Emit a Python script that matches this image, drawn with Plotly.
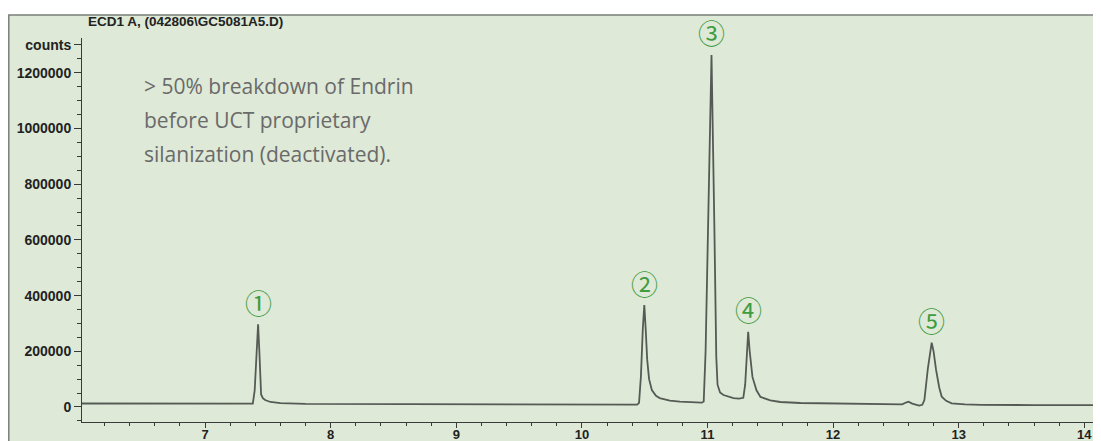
import plotly.graph_objects as go

# ---- data ----
time_min = [6.02, 6.50, 7.00, 7.36, 7.38, 7.395, 7.41, 7.422, 7.432, 7.44, 7.446, 7.46,
            7.478, 7.52, 7.60, 7.80, 8.50, 9.00, 9.50, 10.00, 10.44, 10.455, 10.47,
            10.485, 10.497, 10.508, 10.52, 10.535, 10.557, 10.59, 10.62, 10.70, 10.78,
            10.955, 10.97, 10.985, 11.005, 11.032, 11.055, 11.07, 11.08, 11.10, 11.127,
            11.17, 11.207, 11.25, 11.285, 11.30, 11.312, 11.324, 11.336, 11.358, 11.39,
            11.422, 11.50, 11.58, 11.74, 12.00, 12.30, 12.55, 12.58, 12.60, 12.63,
            12.685, 12.71, 12.727, 12.755, 12.785, 12.80, 12.82, 12.845, 12.865, 12.90,
            12.944, 13.05, 13.18, 13.60, 14.14]
counts = [12500, 12000, 11500, 11000, 12000, 60000, 190000, 297000, 200000, 100000, 45000, 32000,
          25000, 18000, 14000, 11500, 10500, 10000, 9500, 9000, 8500, 15000, 110000,
          280000, 366000, 280000, 170000, 100000, 61000, 40000, 32000, 23000, 19000,
          15500, 20000, 200000, 640000, 1264000, 640000, 180000, 80000, 52000, 43000,
          36000, 32000, 30000, 33000, 80000, 200000, 270000, 200000, 108000, 60000,
          36000, 24000, 18000, 14400, 12500, 11000, 9500, 16000, 19000, 12000,
          5000, 8000, 25000, 140000, 231000, 200000, 133000, 70000, 37000, 22000,
          13000, 9500, 7500, 7000, 6500]

peak_labels = ["①", "②", "③", "④", "⑤"]
peak_rt = [7.422, 10.497, 11.032, 11.324, 12.785]

x_tick_vals = [7, 8, 9, 10, 11, 12, 13, 14]
x_tick_text = ["7", "8", "9", "10", "11", "12", "13", "14"]
y_tick_vals = [0, 200000, 400000, 600000, 800000, 1000000, 1200000, 1300000]
y_tick_text = ["0", "200000", "400000", "600000", "800000", "1000000", "1200000", "counts"]

title_text = "ECD1 A, (042806\\GC5081A5.D)"
note_lines = ["> 50% breakdown of Endrin", "before UCT proprietary", "silanization (deactivated)."]

# ---- layout constants (pixels); page body has an 8px margin ----
OFF = 8
W, H = 1101 - OFF, 441 - OFF
ML, MR, MT, MB = 82 - OFF, 0, 38 - OFF, 19
PW, PH = W - ML - MR, H - MT - MB

def px(xp):  # screen x -> paper x
    return (xp - OFF - ML) / PW

def py(yp):  # screen y -> paper y
    return (H - MB - (yp - OFF)) / PH

BG = "#dee9d7"
AX = "#3a3a3a"
YTICKFONT = dict(family="Liberation Sans", size=14, color="#222222", weight=700)
XTICKFONT = dict(family="Liberation Sans", size=13, color="#222222", weight=700)

fig = go.Figure()
fig.add_trace(go.Scatter(x=time_min, y=counts, mode="lines",
                         line=dict(color="#555a55", width=1.8), hoverinfo="skip"))

# background panel and frame lines
fig.add_shape(type="rect", xref="paper", yref="paper",
              x0=px(8), x1=px(1110), y0=py(450), y1=py(15),
              fillcolor=BG, line=dict(width=0), layer="below")
fig.add_shape(type="path", xref="paper", yref="paper",
              path=f"M {px(8.8)} {py(450)} L {px(8.8)} {py(15)} L {px(1110)} {py(15)}",
              line=dict(color="#7a7f7a", width=1.5), layer="below")

# title
fig.add_annotation(text=title_text, xref="paper", yref="paper", x=px(86), y=py(22),
                   xanchor="left", yanchor="middle", showarrow=False,
                   font=dict(family="Liberation Sans", size=13.5, color="#222222", weight=700))

# note text
for line, ypos in zip(note_lines, [86, 120, 154]):
    fig.add_annotation(text=line, xref="paper", yref="paper", x=px(142), y=py(ypos),
                       xanchor="left", yanchor="middle", showarrow=False,
                       font=dict(family="Open Sans", size=21, color="#6a6a6a"))

# peak labels placed above each apex
for lab, rt in zip(peak_labels, peak_rt):
    apex = max(c for t, c in zip(time_min, counts) if abs(t - rt) < 0.03)
    fig.add_annotation(text=lab, x=rt, y=apex, xref="x", yref="y",
                       xanchor="center", yanchor="middle", yshift=22, showarrow=False,
                       font=dict(family="Noto Sans CJK JP", size=27, color="#3f9c3f"))

# "min" unit after last x tick label
fig.add_annotation(text="min", xref="x", yref="paper", x=14, y=py(434), xshift=8,
                   xanchor="left", yanchor="middle", showarrow=False, font=XTICKFONT)

fig.update_layout(
    width=W, height=H, margin=dict(l=ML, r=MR, t=MT, b=MB, pad=0, autoexpand=False),
    paper_bgcolor="white", plot_bgcolor="rgba(0,0,0,0)", showlegend=False,
    xaxis=dict(range=[6.02, 6.02 + PW / 125.6], tickmode="array", tickvals=x_tick_vals,
               ticktext=x_tick_text, ticks="outside", ticklen=5, tickcolor=AX, tickwidth=1,
               showline=True, linecolor=AX, linewidth=1, showgrid=False, zeroline=False,
               tickfont=XTICKFONT, automargin=False, ticklabelstandoff=-5,
               minor=dict(tickmode="linear", tick0=6.0, dtick=0.2, ticks="outside",
                          ticklen=3, tickcolor=AX, showgrid=False)),
    yaxis=dict(range=[-53900, 1325000], tickmode="array", tickvals=y_tick_vals,
               ticktext=y_tick_text, ticks="outside", ticklen=7, tickcolor=AX, tickwidth=1,
               showline=True, linecolor=AX, linewidth=1, showgrid=False, zeroline=False,
               tickfont=YTICKFONT, automargin=False,
               minor=dict(tickmode="linear", tick0=0, dtick=50000, ticks="outside",
                          ticklen=4, tickcolor=AX, showgrid=False)),
)

fig.write_html("out.html")
